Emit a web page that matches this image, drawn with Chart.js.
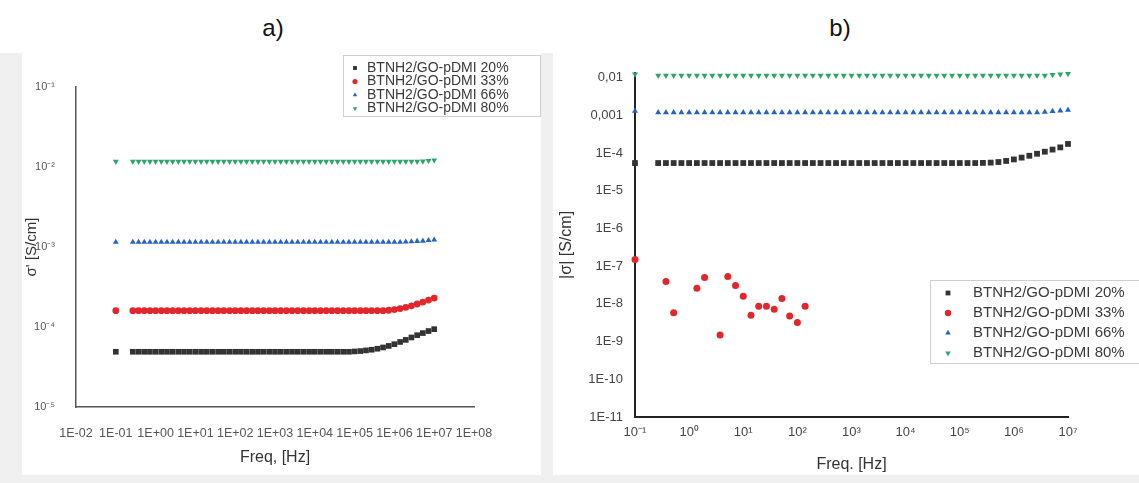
<!DOCTYPE html>
<html>
<head>
<meta charset="utf-8">
<script src="https://cdn.jsdelivr.net/npm/chart.js@4.4.1/dist/chart.umd.min.js"></script>
<style>
    body { margin: 0; width: 1139px; height: 483px; background: #fff; position: relative; overflow: hidden; font-family: Arial, "Liberation Sans", sans-serif; }
    .frame { position: absolute; left: 0; top: 53px; width: 1139px; height: 430px; background: #f0f0f0; }
    .panel { position: absolute; top: 53px; height: 422px; background: #fff; }
    .label { position: absolute; top: 13px; width: 100px; text-align: center; font-size: 24px; line-height: 30px; color: #111; }
</style>
</head>
<body>
<div class="frame"></div>
<div class="label" style="left:223px">a)</div>
<div class="label" style="left:790px">b)</div>
<div class="panel" style="left:22px; width:519px"><canvas id="chart-a" width="519" height="422"></canvas></div>
<div class="panel" style="left:553px; width:586px"><canvas id="chart-b" width="586" height="422"></canvas></div>

<script>
    // 频率 (Hz)，两个图共用
    const freq = [0.1,
        0.268, 0.373, 0.518, 0.72,
        1, 1.39, 1.93, 2.68, 3.73, 5.18, 7.2,
        10, 13.9, 19.3, 26.8, 37.3, 51.8, 72,
        100, 139, 193, 268, 373, 518, 720,
        1000, 1390, 1930, 2680, 3730, 5180, 7200,
        1e4, 1.39e4, 1.93e4, 2.68e4, 3.73e4, 5.18e4, 7.2e4,
        1e5, 1.39e5, 1.93e5, 2.68e5, 3.73e5, 5.18e5, 7.2e5,
        1e6, 1.39e6, 1.93e6, 2.68e6, 3.73e6, 5.18e6, 7.2e6,
        1e7];

    const seriesNames = ['BTNH2/GO-pDMI 20%', 'BTNH2/GO-pDMI 33%', 'BTNH2/GO-pDMI 66%', 'BTNH2/GO-pDMI 80%'];

    // a) σ'
    const sigA20 = [4.9e-5,
        4.9e-5, 4.9e-5, 4.9e-5, 4.9e-5,
        4.9e-5, 4.9e-5, 4.9e-5, 4.9e-5, 4.9e-5, 4.9e-5, 4.9e-5,
        4.9e-5, 4.9e-5, 4.9e-5, 4.9e-5, 4.9e-5, 4.9e-5, 4.9e-5,
        4.9e-5, 4.9e-5, 4.9e-5, 4.9e-5, 4.9e-5, 4.9e-5, 4.9e-5,
        4.9e-5, 4.9e-5, 4.9e-5, 4.9e-5, 4.9e-5, 4.9e-5, 4.9e-5,
        4.9e-5, 4.9e-5, 4.9e-5, 4.9e-5, 4.9e-5, 4.9e-5, 4.9e-5,
        4.95e-5, 5.0e-5, 5.1e-5, 5.2e-5, 5.35e-5, 5.55e-5, 5.8e-5,
        6.1e-5, 6.5e-5, 6.9e-5, 7.4e-5, 7.9e-5, 8.4e-5, 8.9e-5,
        9.4e-5];
    const sigA33 = [1.6e-4,
        1.6e-4, 1.6e-4, 1.6e-4, 1.6e-4,
        1.6e-4, 1.6e-4, 1.6e-4, 1.6e-4, 1.6e-4, 1.6e-4, 1.6e-4,
        1.6e-4, 1.6e-4, 1.6e-4, 1.6e-4, 1.6e-4, 1.6e-4, 1.6e-4,
        1.6e-4, 1.6e-4, 1.6e-4, 1.6e-4, 1.6e-4, 1.6e-4, 1.6e-4,
        1.6e-4, 1.6e-4, 1.6e-4, 1.6e-4, 1.6e-4, 1.6e-4, 1.6e-4,
        1.6e-4, 1.6e-4, 1.6e-4, 1.6e-4, 1.6e-4, 1.6e-4, 1.6e-4,
        1.6e-4, 1.6e-4, 1.6e-4, 1.6e-4, 1.6e-4, 1.6e-4, 1.62e-4,
        1.65e-4, 1.7e-4, 1.76e-4, 1.84e-4, 1.94e-4, 2.05e-4, 2.17e-4,
        2.3e-4];
    const sigA66 = [1.15e-3,
        1.15e-3, 1.15e-3, 1.15e-3, 1.15e-3,
        1.15e-3, 1.15e-3, 1.15e-3, 1.15e-3, 1.15e-3, 1.15e-3, 1.15e-3,
        1.15e-3, 1.15e-3, 1.15e-3, 1.15e-3, 1.15e-3, 1.15e-3, 1.15e-3,
        1.15e-3, 1.15e-3, 1.15e-3, 1.15e-3, 1.15e-3, 1.15e-3, 1.15e-3,
        1.15e-3, 1.15e-3, 1.15e-3, 1.15e-3, 1.15e-3, 1.15e-3, 1.15e-3,
        1.15e-3, 1.15e-3, 1.15e-3, 1.15e-3, 1.15e-3, 1.15e-3, 1.15e-3,
        1.15e-3, 1.15e-3, 1.15e-3, 1.15e-3, 1.15e-3, 1.15e-3, 1.15e-3,
        1.15e-3, 1.15e-3, 1.16e-3, 1.17e-3, 1.18e-3, 1.19e-3, 1.21e-3,
        1.23e-3];
    const sigA80 = [1.17e-2,
        1.17e-2, 1.17e-2, 1.17e-2, 1.17e-2,
        1.17e-2, 1.17e-2, 1.17e-2, 1.17e-2, 1.17e-2, 1.17e-2, 1.17e-2,
        1.17e-2, 1.17e-2, 1.17e-2, 1.17e-2, 1.17e-2, 1.17e-2, 1.17e-2,
        1.17e-2, 1.17e-2, 1.17e-2, 1.17e-2, 1.17e-2, 1.17e-2, 1.17e-2,
        1.17e-2, 1.17e-2, 1.17e-2, 1.17e-2, 1.17e-2, 1.17e-2, 1.17e-2,
        1.17e-2, 1.17e-2, 1.17e-2, 1.17e-2, 1.17e-2, 1.17e-2, 1.17e-2,
        1.17e-2, 1.17e-2, 1.17e-2, 1.17e-2, 1.17e-2, 1.17e-2, 1.17e-2,
        1.17e-2, 1.17e-2, 1.17e-2, 1.17e-2, 1.17e-2, 1.18e-2, 1.2e-2,
        1.22e-2];

    // b) |σ|
    const sigB20 = [5.45e-5,
        5.45e-5, 5.45e-5, 5.45e-5, 5.45e-5,
        5.45e-5, 5.45e-5, 5.45e-5, 5.45e-5, 5.45e-5, 5.45e-5, 5.45e-5,
        5.45e-5, 5.45e-5, 5.45e-5, 5.45e-5, 5.45e-5, 5.45e-5, 5.45e-5,
        5.45e-5, 5.45e-5, 5.45e-5, 5.45e-5, 5.45e-5, 5.45e-5, 5.45e-5,
        5.45e-5, 5.45e-5, 5.45e-5, 5.45e-5, 5.45e-5, 5.45e-5, 5.45e-5,
        5.45e-5, 5.45e-5, 5.45e-5, 5.45e-5, 5.45e-5, 5.45e-5, 5.45e-5,
        5.45e-5, 5.45e-5, 5.45e-5, 5.5e-5, 5.6e-5, 5.8e-5, 6.2e-5,
        6.8e-5, 7.6e-5, 8.5e-5, 9.6e-5, 1.09e-4, 1.24e-4, 1.42e-4,
        1.75e-4];
    const freqB33 = [0.1, 0.373, 0.518, 1.39, 1.93, 3.73, 5.18, 7.2, 10, 13.9, 19.3, 26.8, 37.3, 51.8, 72, 100, 139];
    const sigB33 = [1.5e-7, 3.9e-8, 5.8e-9, 2.6e-8, 5.0e-8, 1.5e-9, 5.3e-8, 3.1e-8, 1.6e-8, 5.0e-9, 8.6e-9, 8.6e-9, 7.2e-9, 1.4e-8, 4.8e-9, 3.2e-9, 8.6e-9];
    const sigB66 = [1.3e-3,
        1.2e-3, 1.2e-3, 1.2e-3, 1.2e-3,
        1.2e-3, 1.2e-3, 1.2e-3, 1.2e-3, 1.2e-3, 1.2e-3, 1.2e-3,
        1.2e-3, 1.2e-3, 1.2e-3, 1.2e-3, 1.2e-3, 1.2e-3, 1.2e-3,
        1.2e-3, 1.2e-3, 1.2e-3, 1.2e-3, 1.2e-3, 1.2e-3, 1.2e-3,
        1.2e-3, 1.2e-3, 1.2e-3, 1.2e-3, 1.2e-3, 1.2e-3, 1.2e-3,
        1.2e-3, 1.2e-3, 1.2e-3, 1.2e-3, 1.2e-3, 1.2e-3, 1.2e-3,
        1.2e-3, 1.2e-3, 1.2e-3, 1.2e-3, 1.2e-3, 1.2e-3, 1.2e-3,
        1.2e-3, 1.2e-3, 1.2e-3, 1.2e-3, 1.24e-3, 1.28e-3, 1.33e-3,
        1.4e-3];
    const sigB80 = [1.24e-2,
        1.15e-2, 1.15e-2, 1.15e-2, 1.15e-2,
        1.15e-2, 1.15e-2, 1.15e-2, 1.15e-2, 1.15e-2, 1.15e-2, 1.15e-2,
        1.15e-2, 1.15e-2, 1.15e-2, 1.15e-2, 1.15e-2, 1.15e-2, 1.15e-2,
        1.15e-2, 1.15e-2, 1.15e-2, 1.15e-2, 1.15e-2, 1.15e-2, 1.15e-2,
        1.15e-2, 1.15e-2, 1.15e-2, 1.15e-2, 1.15e-2, 1.15e-2, 1.15e-2,
        1.15e-2, 1.15e-2, 1.15e-2, 1.15e-2, 1.15e-2, 1.15e-2, 1.15e-2,
        1.15e-2, 1.15e-2, 1.15e-2, 1.15e-2, 1.15e-2, 1.15e-2, 1.15e-2,
        1.15e-2, 1.15e-2, 1.15e-2, 1.15e-2, 1.15e-2, 1.2e-2, 1.24e-2,
        1.28e-2];

    // 刻度
    const xTicksA = [1e-2, 1e-1, 1, 10, 100, 1e3, 1e4, 1e5, 1e6, 1e7, 1e8];
    const xLabelsA = ['1E-02', '1E-01', '1E+00', '1E+01', '1E+02', '1E+03', '1E+04', '1E+05', '1E+06', '1E+07', '1E+08'];
    const yTicksA = [1e-5, 1e-4, 1e-3, 1e-2, 1e-1];
    const yLabelsA = ['10⁻⁵', '10⁻⁴', '10⁻³', '10⁻²', '10⁻¹'];
    const xTicksB = [1e-1, 1, 10, 100, 1e3, 1e4, 1e5, 1e6, 1e7];
    const xLabelsB = ['10⁻¹', '10⁰', '10¹', '10²', '10³', '10⁴', '10⁵', '10⁶', '10⁷'];
    const yTicksB = [1e-11, 1e-10, 1e-9, 1e-8, 1e-7, 1e-6, 1e-5, 1e-4, 1e-3, 1e-2];
    const yLabelsB = ['1E-11', '1E-10', '1E-9', '1E-8', '1E-7', '1E-6', '1E-5', '1E-4', '0,001', '0,01'];

    const colors = ['#333333', '#e3262b', '#2563c4', '#2ea56a'];
    const styles = ['rect', 'circle', 'triangle', 'triangle'];
    const rotations = [0, 0, 0, 180];

    Chart.defaults.font.family = 'Arial, "Liberation Sans", sans-serif';

    function pts(xs, ys) {
        return xs.map((x, i) => ({x: x, y: ys[i]}));
    }

    function makeSets(list, radius) {
        return list.map((d, i) => ({
            label: seriesNames[i],
            data: d,
            backgroundColor: colors[i],
            borderColor: colors[i],
            pointStyle: styles[i],
            pointRotation: rotations[i],
            pointRadius: styles[i] === 'rect' ? radius + 0.6 : radius,
            pointBorderWidth: 0,
            showLine: false,
            clip: false
        }));
    }

    // 图例标记
    function marker(ctx, style, rot, x, y, r) {
        ctx.beginPath();
        if (style === 'rect') {
            ctx.rect(x - r * 0.75, y - r * 0.75, r * 1.5, r * 1.5);
        } else if (style === 'circle') {
            ctx.arc(x, y, r, 0, Math.PI * 2);
        } else {
            const s = rot ? -1 : 1;
            ctx.moveTo(x, y - s * r);
            ctx.lineTo(x + r * 0.87, y + s * r * 0.5);
            ctx.lineTo(x - r * 0.87, y + s * r * 0.5);
            ctx.closePath();
        }
        ctx.fill();
    }

    const boxLegend = {
        id: 'boxLegend',
        afterDraw(chart, args, o) {
            const ctx = chart.ctx;
            ctx.save();
            ctx.fillStyle = '#fff';
            ctx.fillRect(o.x, o.y, o.w, o.h);
            ctx.strokeStyle = '#cfcfcf';
            ctx.lineWidth = 1;
            ctx.strokeRect(o.x + 0.5, o.y + 0.5, o.w, o.h);
            ctx.font = o.size + 'px Arial, "Liberation Sans", sans-serif';
            ctx.textBaseline = 'middle';
            chart.data.datasets.forEach((ds, i) => {
                const cy = o.y + o.first + i * o.step;
                ctx.fillStyle = ds.backgroundColor;
                marker(ctx, ds.pointStyle, ds.pointRotation, o.x + o.mx, cy, o.r);
                ctx.fillStyle = '#3a3a3a';
                ctx.fillText(ds.label, o.x + o.tx, cy);
            });
            ctx.restore();
        }
    };

    function logScale(min, max, ticks, labels, opt) {
        return {
            type: 'logarithmic',
            min: min,
            max: max,
            afterBuildTicks: s => { s.ticks = ticks.map(v => ({value: v})); },
            afterFit: s => {
                if (opt.width) s.width = opt.width;
                if (opt.height) s.height = opt.height;
            },
            grid: {display: false, drawTicks: false},
            border: {display: true, color: opt.axisColor, width: opt.axisWidth},
            ticks: {
                autoSkip: false,
                maxRotation: 0,
                padding: opt.pad,
                color: opt.tickColor,
                font: {size: opt.tickSize},
                callback: (v, i) => labels[i]
            },
            title: {
                display: true,
                text: opt.title,
                color: '#333',
                font: {size: opt.titleSize},
                padding: opt.titlePad
            }
        };
    }

    // 图 a
    new Chart(document.getElementById('chart-a'), {
        type: 'scatter',
        data: {
            datasets: makeSets([pts(freq, sigA20), pts(freq, sigA33), pts(freq, sigA66), pts(freq, sigA80)], 3.4)
        },
        options: {
            responsive: false,
            animation: false,
            devicePixelRatio: 1,
            layout: {padding: {top: 34, right: 67, left: 0, bottom: 0}},
            plugins: {
                legend: {display: false},
                tooltip: {enabled: false},
                boxLegend: {x: 321, y: 2, w: 197, h: 61, first: 13, step: 13.5, mx: 12, tx: 24, r: 2.6, size: 14}
            },
            scales: {
                x: logScale(1e-2, 1e8, xTicksA, xLabelsA, {height: 68, axisColor: '#555', axisWidth: 1.5, pad: 19, tickColor: '#555', tickSize: 12.5, title: 'Freq, [Hz]', titleSize: 16, titlePad: {top: 0, bottom: 8}}),
                y: logScale(1e-5, 1e-1, yTicksA, yLabelsA, {width: 54, axisColor: '#555', axisWidth: 1.5, pad: 21, tickColor: '#555', tickSize: 11, title: "σ' [S/cm]", titleSize: 15, titlePad: {top: 1, bottom: 0}})
            }
        },
        plugins: [boxLegend]
    });

    // 图 b
    new Chart(document.getElementById('chart-b'), {
        type: 'scatter',
        data: {
            datasets: makeSets([pts(freq, sigB20), pts(freqB33, sigB33), pts(freq, sigB66), pts(freq, sigB80)], 3.5)
        },
        options: {
            responsive: false,
            animation: false,
            devicePixelRatio: 1,
            layout: {padding: {top: 17, right: 71, left: 0, bottom: 0}},
            plugins: {
                legend: {display: false},
                tooltip: {enabled: false},
                boxLegend: {x: 377, y: 227, w: 230, h: 83, first: 13, step: 20, mx: 18, tx: 43, r: 3.2, size: 15}
            },
            scales: {
                x: logScale(1e-1, 1e7, xTicksB, xLabelsB, {height: 58, axisColor: '#222', axisWidth: 2, pad: 8, tickColor: '#444', tickSize: 13, title: 'Freq. [Hz]', titleSize: 16, titlePad: {top: 0, bottom: 1}}),
                y: logScale(1e-11, 0.0135, yTicksB, yLabelsB, {width: 82, axisColor: '#222', axisWidth: 2, pad: 12, tickColor: '#444', tickSize: 13, title: '|σ| [S/cm]', titleSize: 16, titlePad: {top: 4, bottom: 0}})
            }
        },
        plugins: [boxLegend]
    });
</script>
</body>
</html>
